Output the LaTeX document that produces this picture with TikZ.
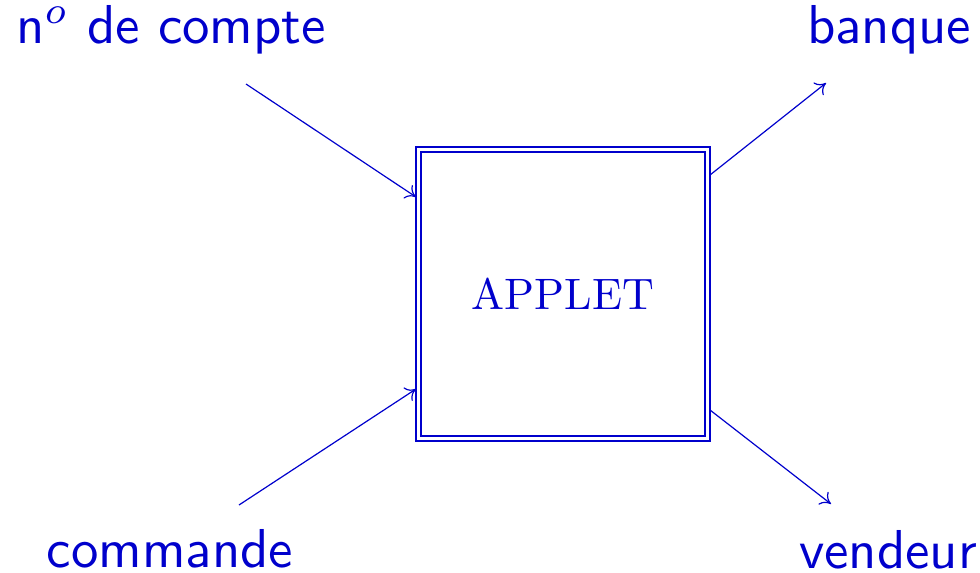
\documentclass[tikz,border=0pt]{standalone}
\usetikzlibrary{arrows.meta}
\definecolor{ink}{RGB}{0,0,204}
\newcommand{\lablook}[1]{\scalebox{2.74}{\fontsize{10}{12}\selectfont\sffamily #1}}
\newcommand{\boxlook}[1]{\scalebox{2.2}{\fontsize{10}{12}\selectfont\rmfamily #1}}
\tikzset{
  lab/.style={text=ink, inner sep=0pt, anchor=base},
  appletbox/.style={draw=ink, text=ink, line width=1pt, double, double distance=1.5pt,
    minimum width=144.5pt, minimum height=144.5pt, inner sep=0pt},
  flow/.style={draw=ink, line width=0.6pt, -{To[length=5pt,width=8pt]}}
}
\begin{document}
\begin{tikzpicture}[x=0.5pt,y=-0.5pt]
\useasboundingbox (0,0) rectangle (980,573);
\node[appletbox] (box) at (563,294) {\boxlook{APPLET}};
\node[lab] (num) at (171,43) {\lablook{n$^o$ de compte}};
\node[lab] (banque) at (889,43) {\lablook{banque}};
\node[lab] (commande) at (170,567) {\lablook{commande}};
\node[lab] (vendeur) at (888,568) {\lablook{vendeur}};
\coordinate (s1) at (246,84);
\coordinate (e1) at (416,197);
\coordinate (s2) at (239,505);
\coordinate (e2) at (416,389);
\coordinate (s3) at (710,175);
\coordinate (e3) at (826,83);
\coordinate (s4) at (710,410);
\coordinate (e4) at (831,504);
\draw[flow] (s1) -- (e1);
\draw[flow] (s2) -- (e2);
\draw[flow] (s3) -- (e3);
\draw[flow] (s4) -- (e4);
\end{tikzpicture}
\end{document}
